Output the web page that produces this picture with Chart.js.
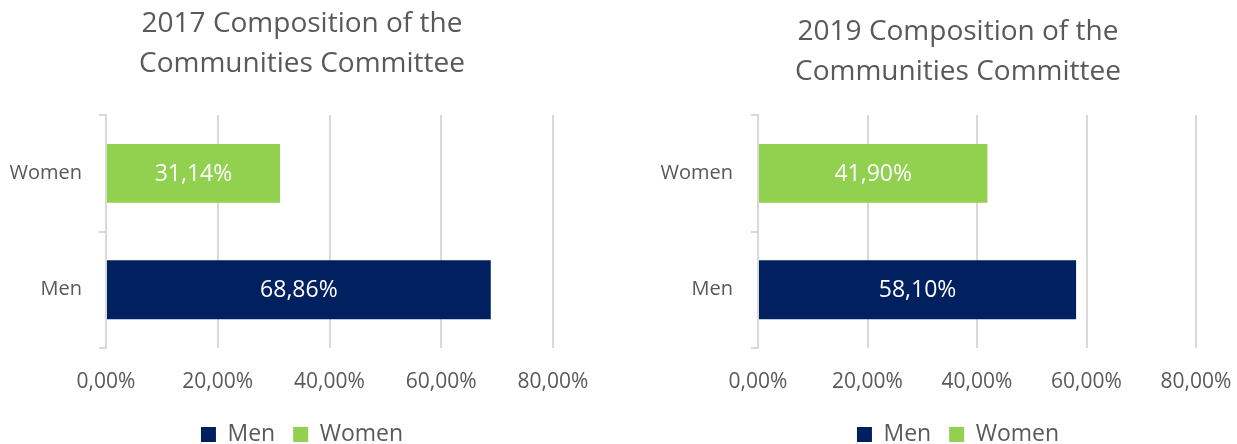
<!DOCTYPE html>
<html lang="en">
<head>
  <meta charset="UTF-8" />
  <title>Composition of the Communities Committee</title>
  <script src="https://cdn.jsdelivr.net/npm/chart.js"></script>
  <style>
    html, body { margin: 0; padding: 0; background: #fff; overflow: hidden; }
    .box { position: absolute; top: 0; height: 444px; }
    #left { left: 0; width: 620px; }
    #right { left: 640px; width: 597px; }
  </style>
</head>
<body>
  <div class="box" id="left"><canvas id="c2017"></canvas></div>
  <div class="box" id="right"><canvas id="c2019"></canvas></div>

  <script>
    // data
    const categories = ['Men', 'Women'];
    const share2017 = [68.86, 31.14];
    const share2019 = [58.10, 41.90];
    const xTicks = [0, 20, 40, 60, 80];
    const title2017 = ['2017 Composition of the', 'Communities Committee'];
    const title2019 = ['2019 Composition of the', 'Communities Committee'];

    const colors = ['#002060', '#92D050'];
    const textGrey = '#595959';
    const lineGrey = '#d9d9d9';

    const pct = v => Number(v).toFixed(2).replace('.', ',') + '%';

    // white value labels in the middle of each bar
    const barLabels = {
      id: 'barLabels',
      afterDatasetsDraw(chart) {
        const ctx = chart.ctx;
        ctx.save();
        ctx.fillStyle = '#fff';
        ctx.font = '23px "Open Sans"';
        ctx.textAlign = 'center';
        ctx.textBaseline = 'middle';
        chart.data.datasets.forEach((ds, i) => {
          chart.getDatasetMeta(i).data.forEach((el, j) => {
            if (ds.data[j] == null) return;
            ctx.fillText(pct(ds.data[j]), (el.x + el.base) / 2, el.y + 1);
          });
        });
        ctx.restore();
      }
    };

    // category labels sit partly in the layout padding, so widen their clip box
    const unclipY = {
      id: 'unclipY',
      afterLayout(chart) { chart.scales.y.left = 0; }
    };

    function makeChart(id, values, title, opt) {
      // one dataset per category so the legend shows both colours
      const datasets = categories.map((name, i) => ({
        label: name,
        backgroundColor: colors[i],
        data: values.map((v, j) => (j === i ? v : null)),
        barPercentage: 1,
        categoryPercentage: 0.505
      }));

      return new Chart(document.getElementById(id), {
        type: 'bar',
        data: { labels: categories, datasets },
        plugins: [barLabels, unclipY],
        options: {
          indexAxis: 'y',
          responsive: true,
          maintainAspectRatio: false,
          animation: false,
          layout: { padding: { left: opt.padLeft, right: opt.padRight, top: 0, bottom: -12 } },
          scales: {
            x: {
              stacked: true,
              min: 0,
              max: 80,
              afterBuildTicks: s => { s.ticks = xTicks.map(v => ({ value: v })); },
              afterFit: s => { s.height = 57; s.paddingLeft = 0; s.paddingRight = 0; },
              ticks: { callback: v => pct(v), color: textGrey, font: { size: 21 }, padding: 21, maxRotation: 0 },
              grid: { color: lineGrey, lineWidth: 2, drawTicks: false },
              border: { display: false }
            },
            y: {
              stacked: true,
              reverse: true,
              afterFit: s => { s.width = opt.yWidth; },
              ticks: { color: textGrey, font: { size: 20 }, padding: opt.yPad },
              grid: { drawOnChartArea: false, offset: true, tickLength: 7, color: lineGrey, lineWidth: 2 },
              border: { display: true, color: lineGrey, width: 2 }
            }
          },
          plugins: {
            title: {
              display: true,
              text: title,
              color: textGrey,
              font: { size: 28, weight: 'normal', lineHeight: 1.43 },
              padding: { top: opt.titleTop, bottom: opt.titleBottom }
            },
            legend: {
              position: 'bottom',
              labels: { color: textGrey, font: { size: 23 }, boxWidth: 15, boxHeight: 15, padding: 18 }
            },
            tooltip: { enabled: false }
          }
        }
      });
    }

    function draw() {
      Chart.defaults.font.family = '"Open Sans", sans-serif';
      makeChart('c2017', share2017, title2017,
        { padLeft: 51, padRight: 67, yWidth: 55, yPad: 17, titleTop: 4, titleBottom: 31 });
      makeChart('c2019', share2019, title2019,
        { padLeft: 80, padRight: 41, yWidth: 38, yPad: 18, titleTop: 12, titleBottom: 23 });
    }

    document.fonts.load('20px "Open Sans"').then(draw, draw);
  </script>
</body>
</html>
